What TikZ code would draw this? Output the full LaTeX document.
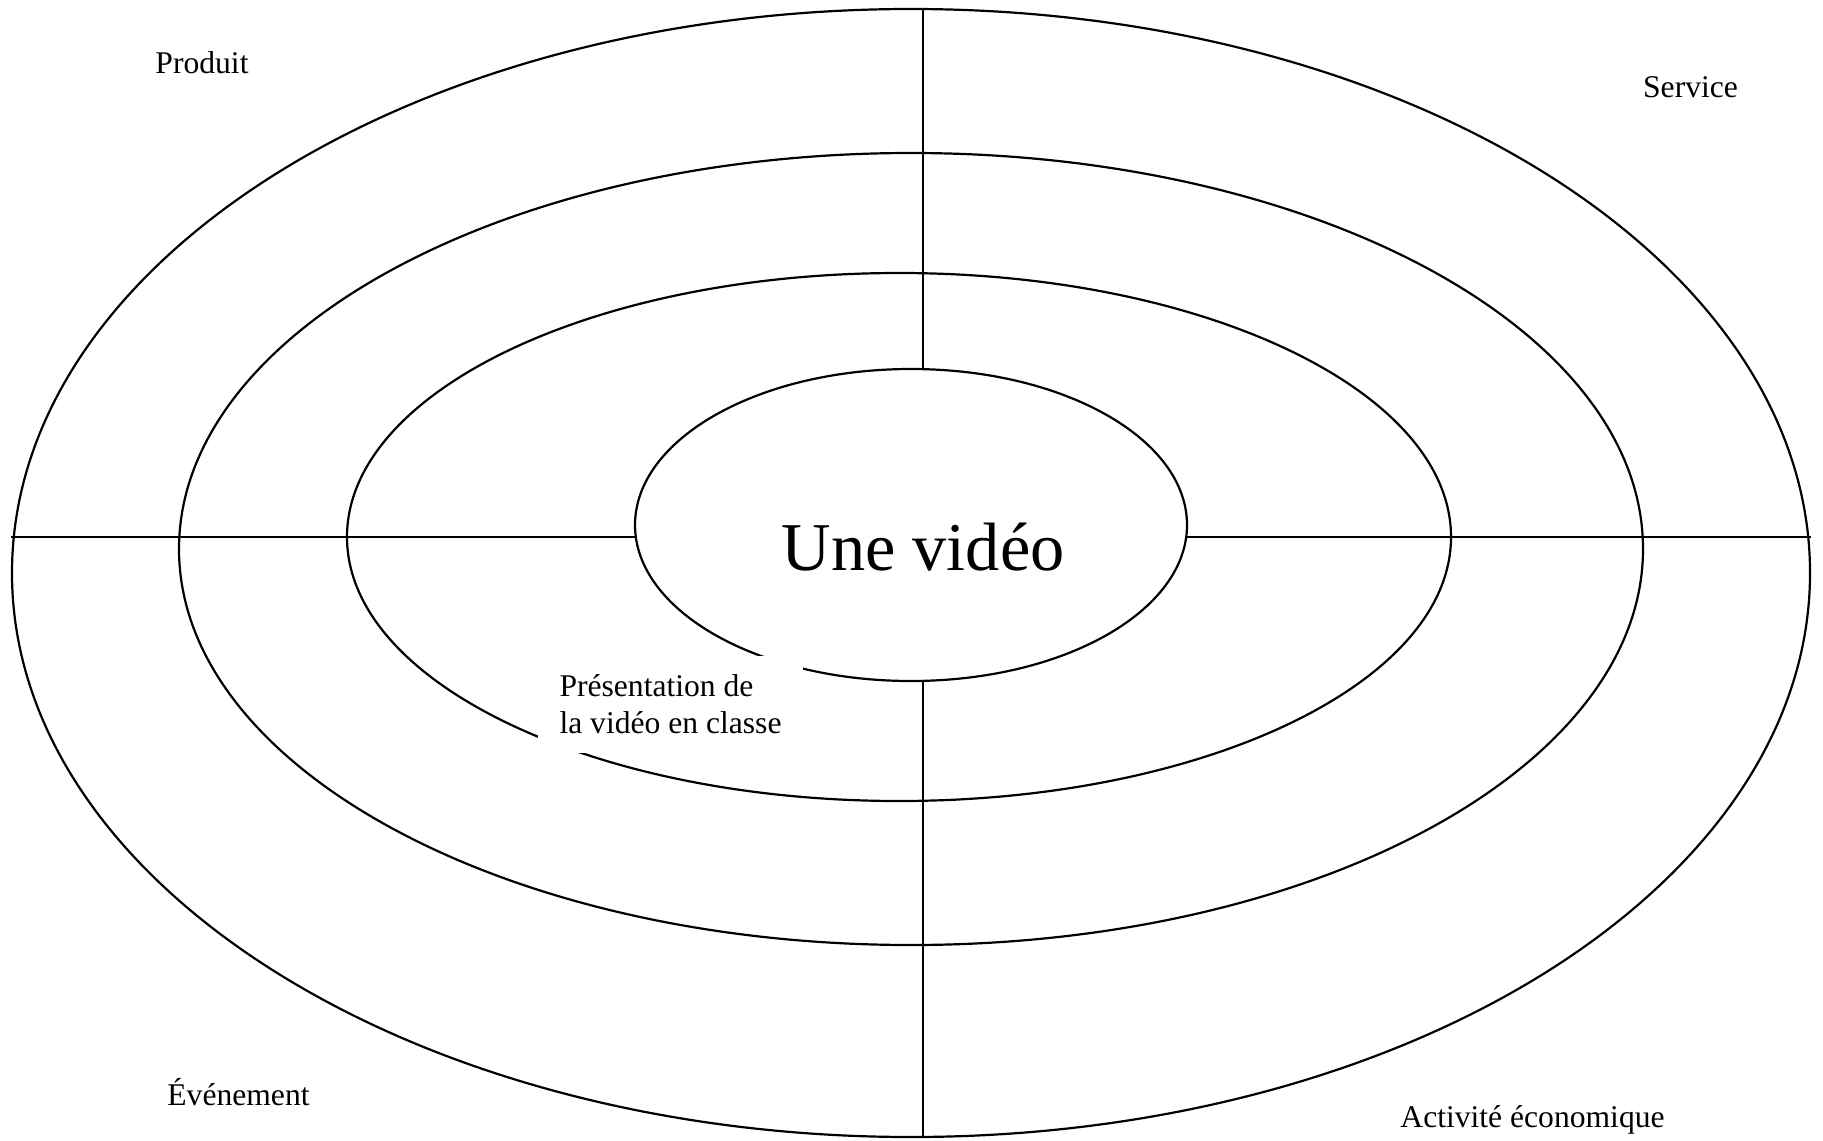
\documentclass[tikz,border=0pt]{standalone}
\usepackage{fontspec}
\setmainfont{Liberation Serif}
\usetikzlibrary{shapes.geometric}

\begin{document}
\begin{tikzpicture}[x=0.5pt,y=-0.5pt,
	ring/.style={draw,ellipse,line width=1.1pt,inner sep=0pt},
	lbl/.style={anchor=base,font=\fontsize{15.8}{18.35}\selectfont}]
	\useasboundingbox (0,0) rectangle (1823,1140);
	\node[ring,minimum width=899pt,minimum height=564pt] (outer) at (911,573) {};
	\node[ring,minimum width=732pt,minimum height=396pt] (mid) at (911,549) {};
	\node[ring,minimum width=552pt,minimum height=264pt] (inner) at (899,537) {};
	\coordinate (W) at (11,536.7);
	\coordinate (E) at (1810.7,536.7);
	\coordinate (N) at (923,9);
	\coordinate (S) at (923,1137);
	\draw[line width=1.1pt] (W) -- (E);
	\draw[line width=1.1pt] (N) -- (S);
	\node[ring,fill=white,minimum width=276pt,minimum height=156pt] (core) at (911,525) {};
	\node[anchor=base,font=\fontsize{34.2}{40}\selectfont] (title) at (923.2,570.7) {Une vidéo};
	\node[fill=white,align=left,inner sep=0pt,minimum width=132.5pt,minimum height=48.5pt,
		font=\fontsize{15.8}{18.35}\selectfont] (pres) at (670.5,704.5) {Présentation de\\la vidéo en classe};
	\node[lbl] (produit) at (202,73) {Produit};
	\node[lbl] (service) at (1690.5,97) {Service};
	\node[lbl] (evenement) at (238.5,1105) {Événement};
	\node[lbl] (activite) at (1532.5,1127) {Activité économique};
\end{tikzpicture}
\end{document}
